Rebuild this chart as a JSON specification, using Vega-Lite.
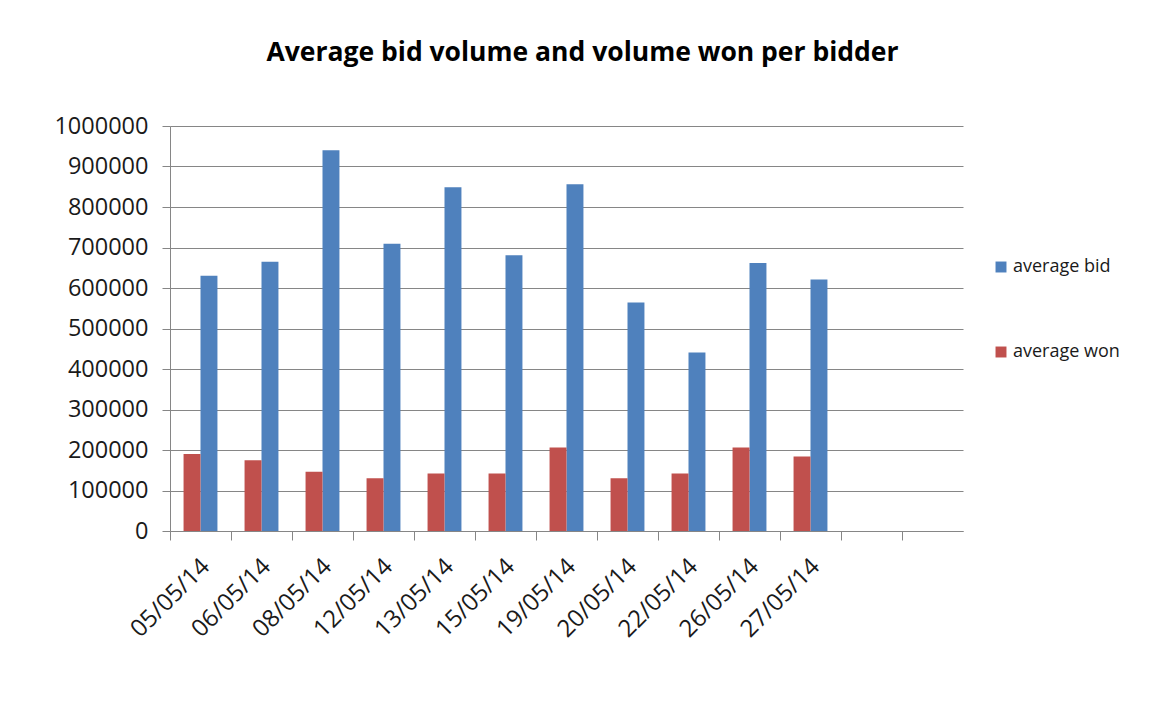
{
  "$schema": "https://vega.github.io/schema/vega-lite/v6.json",
  "width": 793,
  "height": 405,
  "autosize": {"type": "none"},
  "padding": {"left": 170, "top": 126, "right": 190, "bottom": 191},
  "background": "white",
  "title": {
    "text": "Average bid volume and volume won per bidder",
    "font": "Open Sans",
    "fontSize": 26.5,
    "fontWeight": "bold",
    "color": "#000000",
    "anchor": "middle",
    "dx": 16,
    "offset": 48
  },
  "data": {
    "values": [
      {"date": "05/05/14", "series": "average bid", "value": 630000},
      {"date": "05/05/14", "series": "average won", "value": 190000},
      {"date": "06/05/14", "series": "average bid", "value": 665000},
      {"date": "06/05/14", "series": "average won", "value": 175000},
      {"date": "08/05/14", "series": "average bid", "value": 940000},
      {"date": "08/05/14", "series": "average won", "value": 146000},
      {"date": "12/05/14", "series": "average bid", "value": 709000},
      {"date": "12/05/14", "series": "average won", "value": 130000},
      {"date": "13/05/14", "series": "average bid", "value": 849000},
      {"date": "13/05/14", "series": "average won", "value": 142000},
      {"date": "15/05/14", "series": "average bid", "value": 681000},
      {"date": "15/05/14", "series": "average won", "value": 142000},
      {"date": "19/05/14", "series": "average bid", "value": 856000},
      {"date": "19/05/14", "series": "average won", "value": 206000},
      {"date": "20/05/14", "series": "average bid", "value": 564000},
      {"date": "20/05/14", "series": "average won", "value": 130000},
      {"date": "22/05/14", "series": "average bid", "value": 441000},
      {"date": "22/05/14", "series": "average won", "value": 142000},
      {"date": "26/05/14", "series": "average bid", "value": 662000},
      {"date": "26/05/14", "series": "average won", "value": 206000},
      {"date": "27/05/14", "series": "average bid", "value": 621000},
      {"date": "27/05/14", "series": "average won", "value": 184000}
    ]
  },
  "mark": {"type": "bar"},
  "encoding": {
    "x": {
      "field": "date",
      "type": "nominal",
      "title": null,
      "scale": {
        "domain": ["05/05/14", "06/05/14", "08/05/14", "12/05/14", "13/05/14", "15/05/14", "19/05/14", "20/05/14", "22/05/14", "26/05/14", "27/05/14", "", " "],
        "paddingInner": 0,
        "paddingOuter": 0
      },
      "axis": {
        "bandPosition": 0,
        "labelAngle": -45,
        "labelOffset": -3,
        "labelFont": "Open Sans",
        "labelFontSize": 24,
        "labelColor": "#1a1a1a",
        "labelPadding": 14,
        "tickSize": 9,
        "tickColor": "#868686",
        "domainColor": "#868686",
        "grid": false
      }
    },
    "xOffset": {
      "field": "series",
      "type": "nominal",
      "scale": {"domain": ["average won", "average bid"], "paddingInner": 0, "paddingOuter": 0.8}
    },
    "y": {
      "field": "value",
      "type": "quantitative",
      "title": null,
      "scale": {"domain": [0, 1000000], "nice": false},
      "axis": {
        "values": [0, 100000, 200000, 300000, 400000, 500000, 600000, 700000, 800000, 900000, 1000000],
        "format": "d",
        "labelFont": "Open Sans",
        "labelFontSize": 23.5,
        "labelColor": "#1a1a1a",
        "labelPadding": 14,
        "tickSize": 8,
        "tickColor": "#868686",
        "domainColor": "#868686",
        "gridColor": "#868686",
        "gridWidth": 1
      }
    },
    "color": {
      "field": "series",
      "type": "nominal",
      "scale": {"domain": ["average bid", "average won"], "range": ["#4F81BD", "#C0504D"]},
      "legend": {
        "title": null,
        "orient": "none",
        "legendX": 822,
        "legendY": 132,
        "symbolType": "square",
        "symbolSize": 120,
        "symbolStrokeWidth": 0,
        "labelFont": "Open Sans",
        "labelFontSize": 18,
        "labelColor": "#1a1a1a",
        "labelOffset": 3,
        "rowPadding": 67
      }
    }
  },
  "config": {"view": {"stroke": null}}
}
